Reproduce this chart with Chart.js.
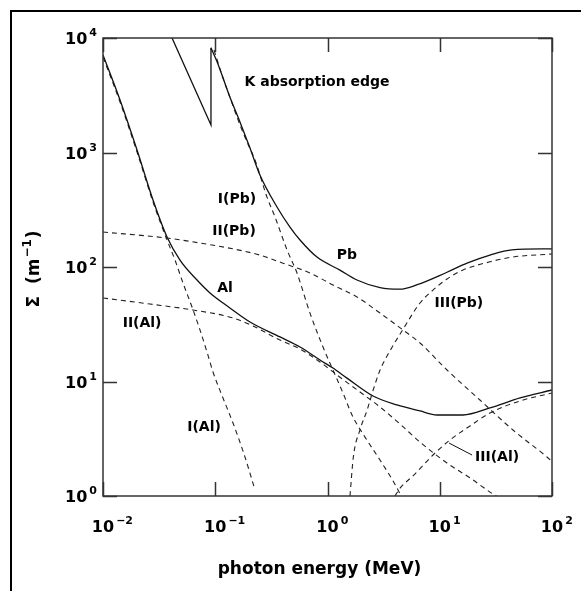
<!DOCTYPE html>
<html>
<head>
<meta charset="utf-8">
<script src="https://cdn.jsdelivr.net/npm/chart.js@4.4.1/dist/chart.umd.min.js"></script>
<style>
  html, body { margin: 0; padding: 0; background: #fff; }
  canvas { display: block; }
</style>
</head>
<body>
<canvas id="atenuacao" width="581" height="591"></canvas>
<script>
// energia do fóton (MeV) e Σ (1/m)
const pbTotal = [[0.0349, 14400], [0.0916, 1740], [0.0916, 8200], [0.104, 6170], [0.135, 3050], [0.166, 1850],
  [0.204, 1094], [0.25, 636], [0.355, 334], [0.463, 223], [0.569, 172], [0.806, 122], [1.29, 94], [1.83, 77],
  [2.94, 66], [4.4, 64], [6.3, 70], [11.6, 90], [17.5, 108], [28, 127], [44, 141], [100, 144]];
const iPb = [[0.0975, 7855], [0.1148, 4753], [0.141, 2706], [0.166, 1740], [0.192, 1236], [0.226, 860],
  [0.289, 408], [0.341, 273], [0.436, 141], [0.535, 88.6], [0.698, 39.6], [0.912, 20.0], [1.119, 12.6],
  [1.374, 7.94], [1.653, 5.10], [2.158, 3.27], [2.936, 2.06], [4.25, 1.13], [4.5, 1.0]];
const iiPb = [[0.01, 202], [0.0372, 179], [0.0731, 162], [0.144, 144], [0.25, 127], [0.401, 108], [0.698, 88.6],
  [1.119, 69.6], [1.831, 54.7], [2.936, 39.6], [4.70, 28.2], [6.67, 21.7], [11.6, 12.6], [22.8, 6.89],
  [44.9, 3.77], [90.2, 2.19], [100, 2.0]];
const iiiPb = [[1.586, 1.0], [1.70, 2.2], [1.95, 3.8], [2.25, 5.6], [2.55, 8.4], [2.94, 12.6], [3.6, 18.5],
  [4.7, 28.5], [6.67, 48.5], [8.71, 62.9], [11.6, 78.6], [16.1, 94.1], [28, 111], [44, 122], [100, 130]];
const alTotal = [[0.01, 7110], [0.01418, 2876], [0.0201, 1052], [0.0279, 385], [0.0372, 183], [0.0485, 115],
  [0.0688, 76.9], [0.0898, 59.3], [0.135, 43.9], [0.204, 33.1], [0.377, 24.5], [0.569, 20.0], [0.857, 15.4],
  [1.119, 13.1], [1.492, 10.7], [2.543, 7.47], [4.16, 6.24], [6.67, 5.53], [9.45, 5.10], [16.1, 5.10],
  [28.0, 5.87], [51.9, 7.18], [100, 8.43]];
const iAl = [[0.01, 6825], [0.01418, 2760], [0.0201, 1010], [0.0279, 370], [0.0372, 172], [0.0438, 115],
  [0.0516, 72.5], [0.0621, 44.7], [0.0731, 28.2], [0.0861, 17.0], [0.0955, 12.1], [0.1172, 7.18],
  [0.1439, 4.34], [0.184, 2.19], [0.226, 1.13]];
const iiAl = [[0.01, 53.6], [0.0262, 47.5], [0.0634, 42.1], [0.144, 35.9], [0.217, 30.5], [0.377, 23.0],
  [0.569, 19.2], [0.857, 14.8], [1.292, 10.9], [1.948, 8.09], [2.936, 5.99], [4.425, 4.25], [6.67, 2.96],
  [11.6, 1.94], [18.6, 1.44], [29.8, 1.04], [32, 1.0]];
const iiiAl = [[3.99, 1.0], [4.425, 1.17], [5.78, 1.50], [8.71, 2.28], [12.3, 3.08], [18.6, 4.09],
  [28.0, 5.31], [51.9, 6.76], [100, 7.94]];

// expoentes das marcas (10^n)
const xTickExps = [-2, -1, 0, 1, 2];
const yTickExps = [0, 1, 2, 3, 4];

// rótulos das curvas
const curveNotes = [
  { text: 'K absorption edge', x: 0.806, y: 4130 },
  { text: 'I(Pb)', x: 0.156, y: 393 },
  { text: 'II(Pb)', x: 0.147, y: 206 },
  { text: 'Pb', x: 1.49, y: 127 },
  { text: 'Al', x: 0.122, y: 65.6 },
  { text: 'II(Al)', x: 0.0223, y: 32.4 },
  { text: 'III(Pb)', x: 14.8, y: 48.5 },
  { text: 'I(Al)', x: 0.0794, y: 4.01 },
  { text: 'III(Al)', x: 32.4, y: 2.19 }
];
const leaderIIIAl = [[12.1, 2.90], [19.4, 2.28]];

const FONT = '"DejaVu Sans", sans-serif';

document.addEventListener("DOMContentLoaded", function() {
    const toPoints = arr => arr.map(p => ({ x: p[0], y: p[1] }));
    const solid = { borderColor: '#111', borderWidth: 1.3 };
    const dashed = { borderColor: '#222', borderWidth: 1.1, borderDash: [5, 4] };

    function serie(label, arr, style, extra) {
        return Object.assign({
            label: label,
            data: toPoints(arr),
            showLine: true,
            pointRadius: 0,
            fill: false,
            cubicInterpolationMode: 'monotone'
        }, style, extra || {});
    }

    // "10" com expoente sobrescrito
    function power(ctx, exp, x, y, align) {
        const base = '10';
        const sup = exp < 0 ? '\u2212' + Math.abs(exp) : String(exp);
        ctx.font = 'bold 16px ' + FONT;
        const wb = ctx.measureText(base).width;
        ctx.font = 'bold 11px ' + FONT;
        const ws = ctx.measureText(sup).width;
        let x0;
        if (align === 'center') x0 = x - wb / 2;
        else x0 = x - wb - 2 - ws;
        ctx.textAlign = 'left';
        ctx.textBaseline = 'alphabetic';
        ctx.font = 'bold 16px ' + FONT;
        ctx.fillText(base, x0, y);
        ctx.font = 'bold 11px ' + FONT;
        ctx.fillText(sup, x0 + wb + 2, y - 8);
    }

    const moldura = {
        id: 'moldura',
        beforeDraw(chart) {
            const ctx = chart.ctx;
            ctx.save();
            ctx.fillStyle = '#fff';
            ctx.fillRect(0, 0, chart.width, chart.height);
            // borda externa (só topo e esquerda aparecem)
            ctx.strokeStyle = '#000';
            ctx.lineWidth = 2;
            ctx.beginPath();
            ctx.moveTo(11, chart.height);
            ctx.lineTo(11, 11);
            ctx.lineTo(chart.width, 11);
            ctx.stroke();
            ctx.restore();
        },
        afterDraw(chart) {
            const ctx = chart.ctx;
            const a = chart.chartArea;
            const xs = chart.scales.x, ys = chart.scales.y;
            ctx.save();
            ctx.strokeStyle = '#333';
            ctx.lineWidth = 1.5;
            ctx.strokeRect(a.left, a.top, a.right - a.left, a.bottom - a.top);

            // marcas para dentro, nos quatro lados
            ctx.beginPath();
            xTickExps.forEach(e => {
                const px = Math.round(xs.getPixelForValue(Math.pow(10, e))) + 0.5;
                ctx.moveTo(px, a.bottom); ctx.lineTo(px, a.bottom - 14);
                ctx.moveTo(px, a.top); ctx.lineTo(px, a.top + 14);
            });
            yTickExps.forEach(e => {
                const py = Math.round(ys.getPixelForValue(Math.pow(10, e))) + 0.5;
                ctx.moveTo(a.left, py); ctx.lineTo(a.left + 14, py);
                ctx.moveTo(a.right, py); ctx.lineTo(a.right - 14, py);
            });
            ctx.stroke();

            ctx.fillStyle = '#000';
            xTickExps.forEach(e => power(ctx, e, xs.getPixelForValue(Math.pow(10, e)), a.bottom + 36, 'center'));
            yTickExps.forEach(e => power(ctx, e, a.left - 6, ys.getPixelForValue(Math.pow(10, e)) + 6, 'right'));

            // rótulos das curvas
            ctx.font = 'bold 14px ' + FONT;
            ctx.textAlign = 'center';
            ctx.textBaseline = 'middle';
            curveNotes.forEach(n => {
                ctx.fillText(n.text, xs.getPixelForValue(n.x), ys.getPixelForValue(n.y));
            });

            // traço ligando III(Al)
            ctx.strokeStyle = '#111';
            ctx.lineWidth = 1;
            ctx.beginPath();
            ctx.moveTo(xs.getPixelForValue(leaderIIIAl[0][0]), ys.getPixelForValue(leaderIIIAl[0][1]));
            ctx.lineTo(xs.getPixelForValue(leaderIIIAl[1][0]), ys.getPixelForValue(leaderIIIAl[1][1]));
            ctx.stroke();

            // títulos dos eixos
            ctx.font = 'bold 17px ' + FONT;
            ctx.textAlign = 'center';
            ctx.textBaseline = 'alphabetic';
            ctx.fillText('photon energy (MeV)', (a.left + a.right) / 2 - 8, a.bottom + 78);

            ctx.translate(39, (a.top + a.bottom) / 2 + 2);
            ctx.rotate(-Math.PI / 2);
            const p1 = 'Σ  (m', p2 = '\u22121', p3 = ')';
            ctx.font = 'bold 17px ' + FONT;
            const w1 = ctx.measureText(p1).width, w3 = ctx.measureText(p3).width;
            ctx.font = 'bold 12px ' + FONT;
            const w2 = ctx.measureText(p2).width;
            let cx = -(w1 + w2 + w3 + 2) / 2;
            ctx.textAlign = 'left';
            ctx.font = 'bold 17px ' + FONT;
            ctx.fillText(p1, cx, 0);
            cx += w1 + 1;
            ctx.font = 'bold 12px ' + FONT;
            ctx.fillText(p2, cx, -8);
            cx += w2 + 1;
            ctx.font = 'bold 17px ' + FONT;
            ctx.fillText(p3, cx, 0);
            ctx.restore();
        }
    };

    // Pb: trecho antes da borda K (retas) e depois dela (suavizado)
    const edgeIdx = 2;

    new Chart(document.getElementById('atenuacao'), {
        type: 'scatter',
        data: {
            datasets: [
                serie('Pb', pbTotal.slice(0, edgeIdx + 1), solid, { cubicInterpolationMode: 'default', tension: 0 }),
                serie('Pb', pbTotal.slice(edgeIdx), solid),
                serie('I(Pb)', iPb, dashed),
                serie('II(Pb)', iiPb, dashed),
                serie('III(Pb)', iiiPb, dashed),
                serie('Al', alTotal, solid),
                serie('I(Al)', iAl, dashed),
                serie('II(Al)', iiAl, dashed),
                serie('III(Al)', iiiAl, dashed)
            ]
        },
        options: {
            responsive: false,
            animation: false,
            layout: { padding: { left: 103, top: 38, right: 29, bottom: 95 } },
            plugins: {
                legend: { display: false },
                tooltip: { enabled: false }
            },
            scales: {
                x: { type: 'logarithmic', min: 0.01, max: 100, display: false },
                y: { type: 'logarithmic', min: 1, max: 10000, display: false }
            }
        },
        plugins: [moldura]
    });
});
</script>
</body>
</html>
